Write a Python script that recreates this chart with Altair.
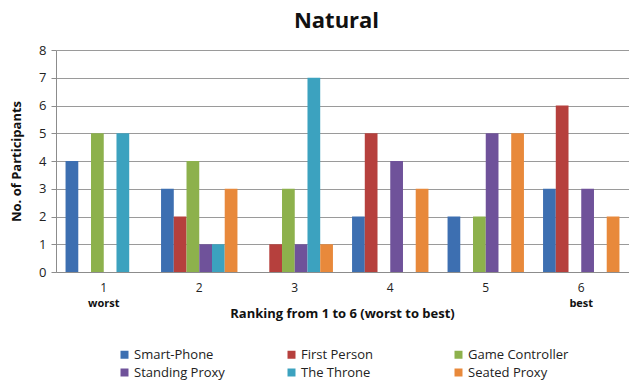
import altair as alt
import pandas as pd

# Rankings (1 = worst, 6 = best) and the six interaction techniques
ranks = ["1", "2", "3", "4", "5", "6"]
devices = ["Smart-Phone", "First Person", "Game Controller",
           "Standing Proxy", "The Throne", "Seated Proxy"]

# Number of participants giving each rank, per technique
smart_phone = [4, 3, 0, 2, 2, 3]
first_person = [0, 2, 1, 5, 0, 6]
game_controller = [5, 4, 3, 0, 2, 0]
standing_proxy = [0, 1, 1, 4, 5, 3]
the_throne = [5, 1, 7, 0, 0, 0]
seated_proxy = [0, 3, 1, 3, 5, 2]

colors = ["#3d6fb1", "#b6403d", "#8db14c", "#6f529a", "#3ca2bf", "#e8893b"]

end_ranks = ["1", "6"]
end_words = ["worst", "best"]

series = [smart_phone, first_person, game_controller,
          standing_proxy, the_throne, seated_proxy]
rows = []
for dev, vals in zip(devices, series):
    for r, v in zip(ranks, vals):
        rows.append({"rank": r, "device": dev, "count": v})
df = pd.DataFrame(rows)
ends = pd.DataFrame({"rank": end_ranks, "word": end_words})

FONT = "Open Sans"
PLOT_W, PLOT_H = 573, 222

x_enc = alt.X(
    "rank:N", sort=ranks,
    scale=alt.Scale(paddingInner=0.2, paddingOuter=0.1),
    axis=alt.Axis(
        title="Ranking from 1 to 6 (worst to best)",
        labelAngle=0, ticks=False, labelPadding=10,
        labelFontSize=12, labelColor="#222", labelFont=FONT,
        domainColor="#8c8c8c", titleFont=FONT, titleFontSize=13,
        titleFontWeight="bold", titleColor="#111", titlePadding=14,
        titleX=286,
    ),
)

bars = alt.Chart(df).mark_bar().encode(
    x=x_enc,
    xOffset=alt.XOffset("device:N", sort=devices,
                        scale=alt.Scale(paddingInner=0, paddingOuter=0)),
    y=alt.Y(
        "count:Q",
        scale=alt.Scale(domain=[0, 8]),
        axis=alt.Axis(
            title="No. of Participants", values=list(range(9)),
            tickSize=5, tickColor="#8c8c8c", labelPadding=5,
            labelFontSize=13, labelColor="#222", labelFont=FONT,
            domainColor="#8c8c8c", gridColor="#9a9a9a",
            titleFont=FONT, titleFontSize=13, titleFontWeight="bold",
            titleColor="#111", titlePadding=15,
        ),
    ),
    color=alt.Color(
        "device:N", sort=devices,
        scale=alt.Scale(domain=devices, range=colors),
        legend=alt.Legend(
            title=None, orient="none", legendX=62, legendY=298,
            direction="horizontal", columns=3, gridAlign="all",
            columnPadding=50, rowPadding=4,
            symbolType="square", symbolSize=64, symbolStrokeWidth=0,
            symbolOffset=0, labelFont=FONT, labelFontSize=13,
            labelColor="#222", labelOffset=3,
        ),
    ),
)

words = alt.Chart(ends).mark_text(
    font=FONT, fontSize=11, fontWeight="bold", color="#111", baseline="middle"
).encode(
    x=alt.X("rank:N", sort=ranks),
    y=alt.value(PLOT_H + 32),
    text="word:N",
)

chart = alt.layer(bars, words).properties(
    width=PLOT_W, height=PLOT_H,
    title=alt.TitleParams("Natural", font=FONT, fontSize=22, fontWeight="bold",
                          color="#111", anchor="middle", offset=11, dx=-6),
    background="white",
    autosize=alt.AutoSizeParams(type="none"),
    padding={"left": 56, "top": 50, "right": 0, "bottom": 109},
).configure_view(stroke=None)

chart.save("out.html", embed_options={"renderer": "svg", "actions": False})
